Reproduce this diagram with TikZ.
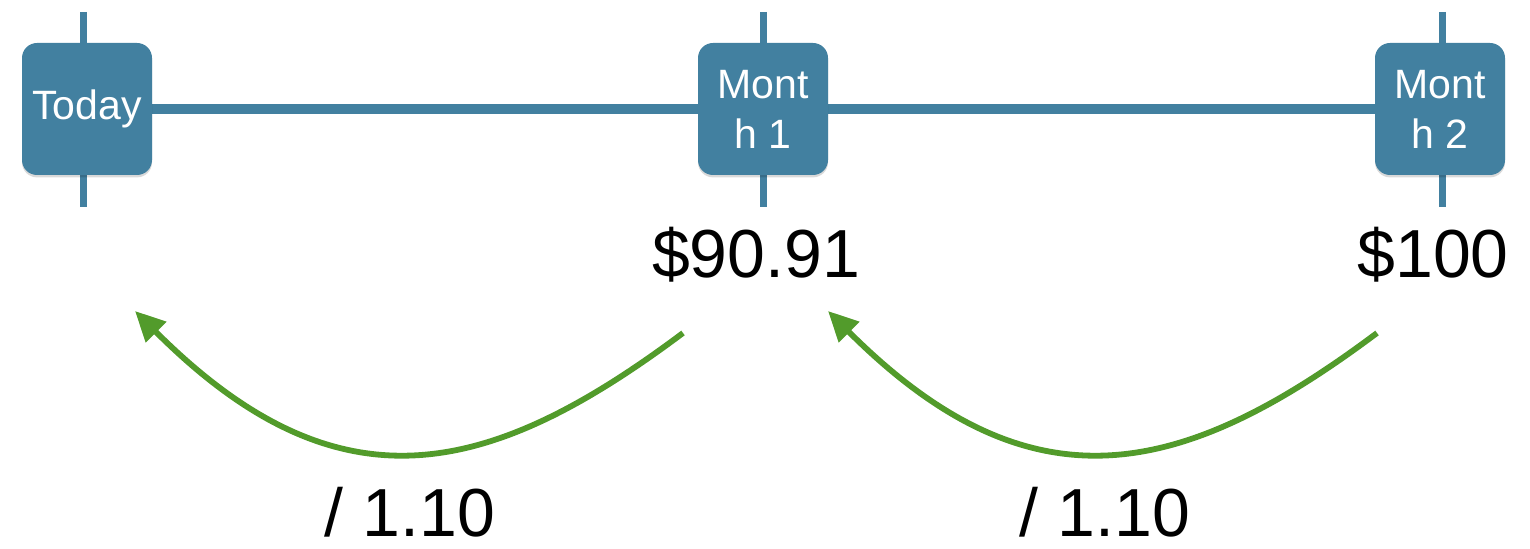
\documentclass[tikz,border=0pt]{standalone}
\usepackage{fontspec}
\setmainfont{Liberation Sans}
\usetikzlibrary{arrows.meta,backgrounds,shadows}
\definecolor{tlblue}{RGB}{66,128,160}
\definecolor{arrgreen}{RGB}{82,155,43}
\tikzset{
  period/.style={fill=tlblue, rounded corners=7.5pt, minimum width=65pt, minimum height=66pt,
    inner sep=0pt, align=center, text=white, font=\fontsize{20.5}{25}\selectfont,
    drop shadow={shadow xshift=0pt, shadow yshift=-1.2pt, opacity=0.15, fill=black}},
  tick/.style={draw=tlblue, line width=3.5pt},
  axis/.style={draw=tlblue, line width=5pt},
  amount/.style={anchor=base, font=\fontsize{34}{40}\selectfont},
  factor/.style={anchor=base, text depth=0pt, inner ysep=0pt, font=\fontsize{34}{40}\selectfont},
  discount/.style={draw=arrgreen, line width=2.9pt, -{Triangle[length=15pt,width=14pt]}}
}
\begin{document}
\begin{tikzpicture}[x=0.5pt,y=-0.5pt]
\useasboundingbox (0,0) rectangle (1530,549);
% period boxes
\node[period] (today) at (87,109) {Today};
\node[period] (m1) at (763,109) {Mont\\h 1};
\node[period] (m2) at (1440,109) {Mont\\h 2};
% tick coordinates
\coordinate (t0a) at (83,12);   \coordinate (t0b) at (83,207);
\coordinate (t1a) at (763,12);  \coordinate (t1b) at (763,207);
\coordinate (t2a) at (1442,12); \coordinate (t2b) at (1442,207);
\begin{scope}[on background layer]
  \draw[tick] (t0a) -- (t0b);
  \draw[tick] (t1a) -- (t1b);
  \draw[tick] (t2a) -- (t2b);
  \draw[axis] (today.east) -- (m1.west);
  \draw[axis] (m1.east) -- (m2.west);
\end{scope}
% amounts
\node[amount] (v1) at (756,278) {\$90.91};
\node[amount] (v2) at (1433,278) {\$100};
% discount arrows
\coordinate (a1s) at (683,333); \coordinate (a1e) at (135,311);
\coordinate (a2s) at (1377,333); \coordinate (a2e) at (828,311);
\draw[discount] (a1s) .. controls (488,479) and (338,514) .. (a1e);
\draw[discount] (a2s) .. controls (1182,479) and (1031,514) .. (a2e);
% factors
\node[factor] (f1) at (410,537) {/ 1.10};
\node[factor] (f2) at (1105,537) {/ 1.10};
\end{tikzpicture}
\end{document}
